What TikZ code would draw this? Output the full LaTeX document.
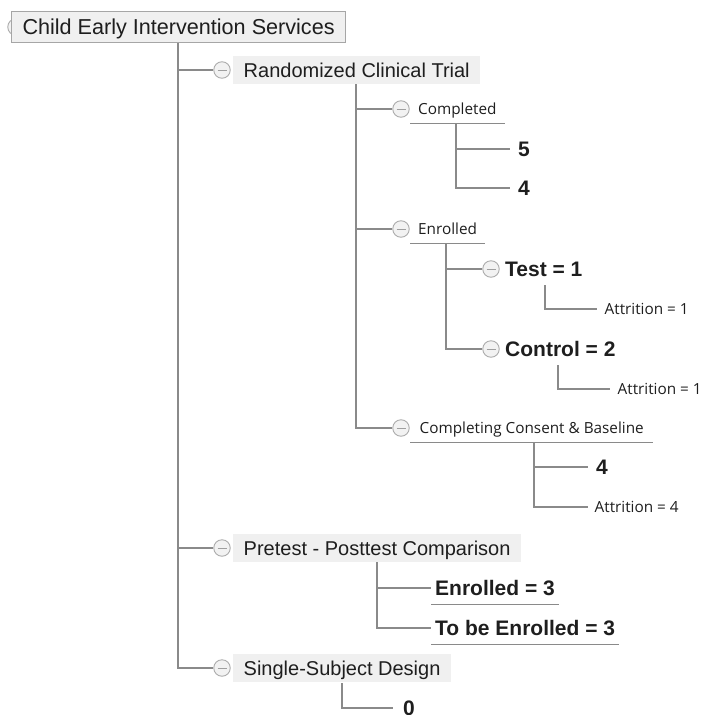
\documentclass[tikz,border=0pt]{standalone}
\usepackage{fontspec}
\setmainfont{Liberation Sans}
\newfontfamily\segoe{Open Sans}
\usetikzlibrary{positioning}
\definecolor{linegray}{HTML}{8A8A8A}
\definecolor{boxgray}{HTML}{F0F0F0}
\definecolor{inkdark}{HTML}{1E1E1E}

\begin{document}
\begin{tikzpicture}[
    x=1pt, y=-1pt, % pixel grid of the screenshot
    every node/.style={text=inkdark},
    link/.style={draw=linegray, line width=1.2pt},
    rootbox/.style={draw=gray!70, fill=boxgray, line width=1pt, anchor=west,
        font=\fontsize{21.6}{24}\selectfont, text height=15.5pt, text depth=0pt,
        inner xsep=11pt, inner ysep=8.2pt},
    branch/.style={fill=boxgray, anchor=west,
        font=\fontsize{20}{24}\selectfont, text height=14.3pt, text depth=0pt,
        inner xsep=10.5pt, inner ysep=7pt},
    minor/.style={anchor=west, font=\segoe\fontsize{15.3}{18}\selectfont,
        text height=10.9pt, text depth=0pt, inner xsep=8pt, inner ysep=9.3pt},
    count/.style={anchor=west, font=\bfseries\fontsize{21}{24}\selectfont,
        text height=15pt, text depth=0pt, inner xsep=8pt, inner ysep=8.5pt},
    toggle/.style={circle, draw=gray!65, fill=gray!10, line width=0.9pt,
        minimum size=16.5pt, inner sep=0pt,
        path picture={\draw[gray!75, line width=1pt]
            ([xshift=-4.5pt]path picture bounding box.center) --
            ([xshift=4.5pt]path picture bounding box.center);}}
]
    \useasboundingbox (0,0) rectangle (704,715);

    % Top level
    \node[toggle] (rootc) at (16,27) {};
    \node[rootbox] (root) at (11,27) {Child Early Intervention Services};

    \node[toggle] (rctc) at (222,70) {};
    \node[branch] (rct) at (233,70) {Randomized Clinical Trial};
    \node[toggle] (pptc) at (222,548) {};
    \node[branch] (ppt) at (233,548) {Pretest - Posttest Comparison};
    \node[toggle] (ssdc) at (222,668) {};
    \node[branch] (ssd) at (233,668) {Single-Subject Design};

    % Randomized Clinical Trial
    \node[toggle] (compc) at (401,109) {};
    \node[minor] (comp) at (410,109) {Completed};
    \node[count] (five) at (510,149) {5};
    \node[count] (fourA) at (510,188) {4};

    \node[toggle] (enrc) at (401,229) {};
    \node[minor] (enr) at (410,229) {Enrolled};
    \node[toggle] (testc) at (491,269) {};
    \node[count, inner xsep=3pt] (test) at (502,269) {Test = 1};
    \node[minor, inner xsep=7.5pt] (attrA) at (597,309) {Attrition = 1};
    \node[toggle] (ctrlc) at (491,349) {};
    \node[count, inner xsep=3pt] (ctrl) at (502,349) {Control = 2};
    \node[minor, inner xsep=7.5pt] (attrB) at (610,389) {Attrition = 1};

    \node[toggle] (ccbc) at (401,428) {};
    \node[minor, inner xsep=9.5pt] (ccb) at (410,428) {Completing Consent \& Baseline};
    \node[count] (fourB) at (588,467) {4};
    \node[minor, inner xsep=6.5pt] (attrC) at (588,507) {Attrition = 4};

    % Pretest - Posttest Comparison
    \node[count, inner xsep=4pt] (enrA) at (431,588) {Enrolled = 3};
    \node[count, inner xsep=4pt] (tbe) at (431,628) {To be Enrolled = 3};

    % Single-Subject Design
    \node[count, inner xsep=10pt] (zero) at (393,708) {0};

    % Underlines
    \foreach \n in {comp, enr, ccb, enrA, tbe}
        \draw[link, line width=1pt] (\n.south west) -- (\n.south east);

    % Elbow points
    \coordinate (trunk) at (178,43);
    \coordinate (rctv) at (356,84);
    \coordinate (compv) at (456,123);
    \coordinate (enrv) at (446,244);
    \coordinate (testv) at (545,285);
    \coordinate (ctrlv) at (558,365);
    \coordinate (ccbv) at (534,443);
    \coordinate (pptv) at (377,562);
    \coordinate (ssdv) at (342,683);

    % Connectors
    \draw[link] (trunk) |- (rctc.west);
    \draw[link] (trunk) |- (pptc.west);
    \draw[link] (trunk) |- (ssdc.west);
    \draw[link] (rctv) |- (compc.west);
    \draw[link] (rctv) |- (enrc.west);
    \draw[link] (rctv) |- (ccbc.west);
    \draw[link] (compv) |- (five.west);
    \draw[link] (compv) |- (fourA.west);
    \draw[link] (enrv) |- (testc.west);
    \draw[link] (enrv) |- (ctrlc.west);
    \draw[link] (testv) |- (attrA.west);
    \draw[link] (ctrlv) |- (attrB.west);
    \draw[link] (ccbv) |- (fourB.west);
    \draw[link] (ccbv) |- (attrC.west);
    \draw[link] (pptv) |- (enrA.west);
    \draw[link] (pptv) |- (tbe.west);
    \draw[link] (ssdv) |- (zero.west);
\end{tikzpicture}
\end{document}
